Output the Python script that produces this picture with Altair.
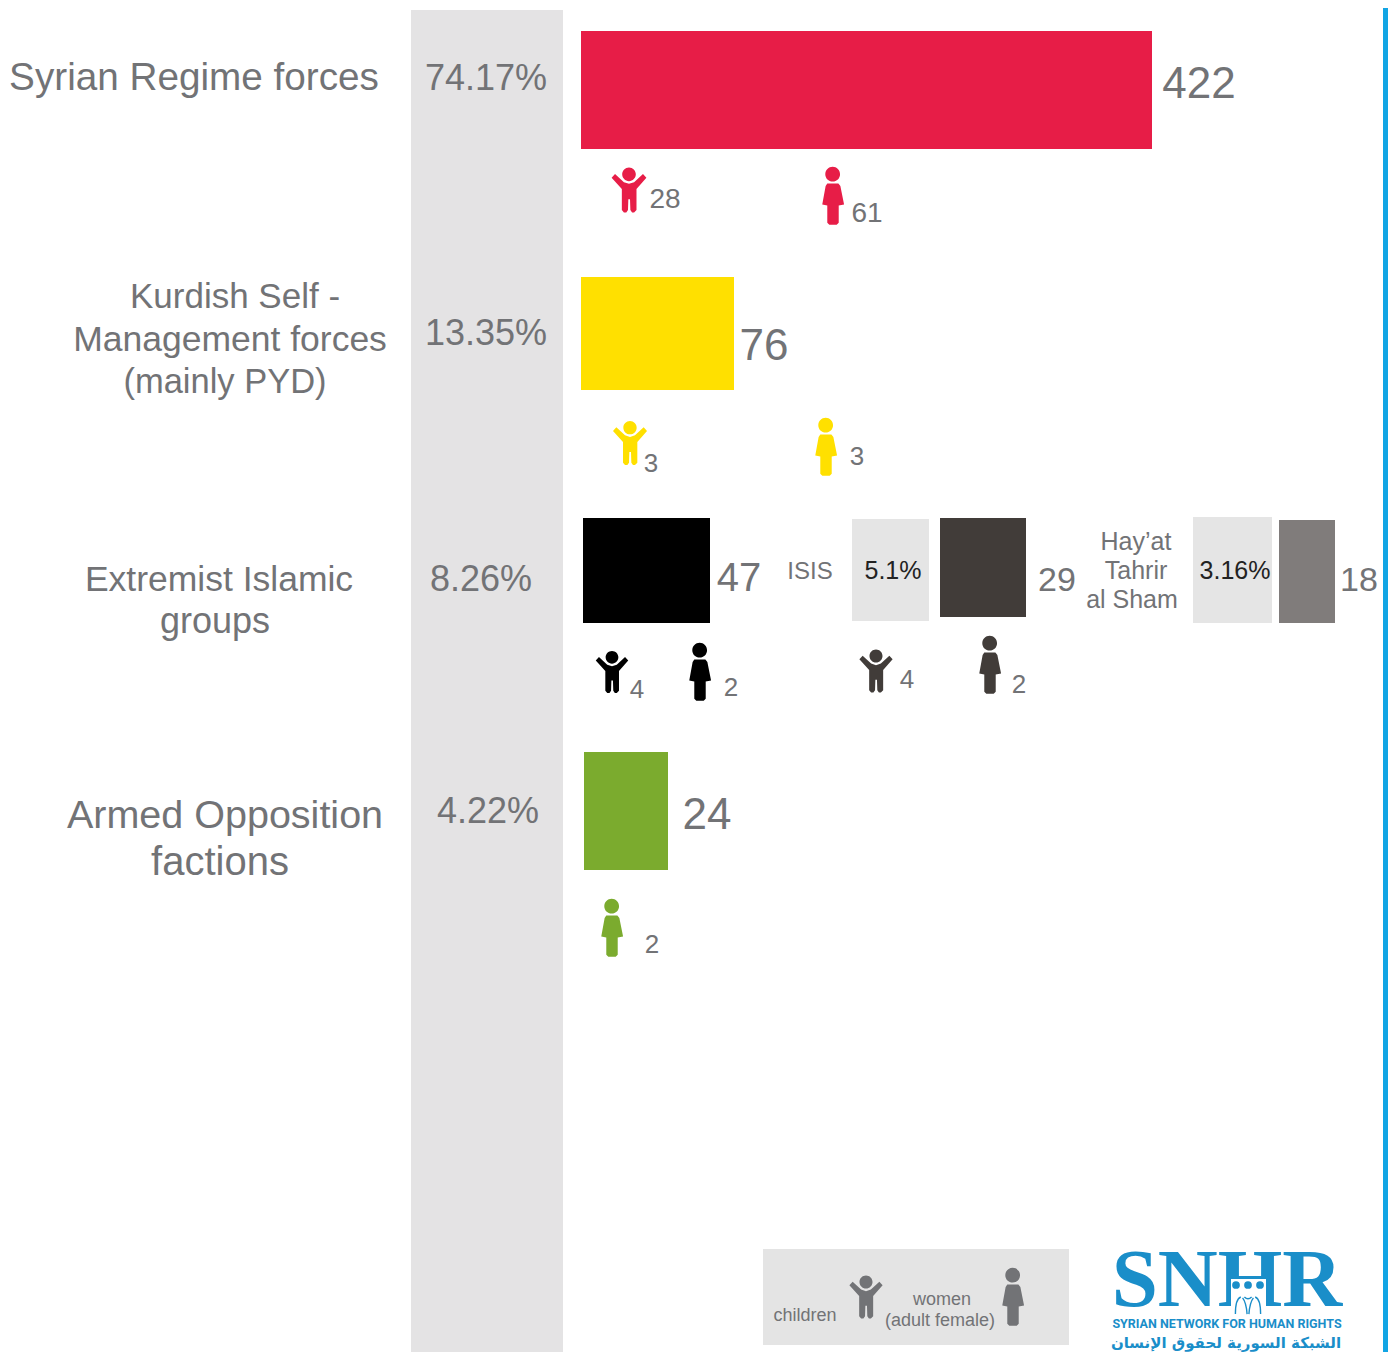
import altair as alt
import pandas as pd

# ---- values ----
groups = ["Syrian Regime forces", "Kurdish Self - Management forces (mainly PYD)", "Extremist Islamic groups",
          "ISIS", "Hay'at Tahrir al Sham", "Armed Opposition factions"]
deaths = [422, 76, 47, 29, 18, 24]
shares = ["74.17%", "13.35%", "8.26%", "5.1%", "3.16%", "4.22%"]
children = [28, 3, 4, 4, None, None]
women = [61, 3, 2, 2, None, 2]
colours = ["#e71d47", "#ffe000", "#000000", "#413c39", "#807c7b", "#7bab2e"]

# ---- layout of this infographic (separate from the values) ----
W, H = 1380, 1344
GREY = "#727376"
PANEL = "#e4e3e4"
BLUE = "#1a8ec9"
bar_box = [(581, 1152, 31, 149), (581, 734, 277, 390), (583, 710, 518, 623),
           (940, 1026, 518, 617), (1279, 1335, 520, 623), (584, 668, 752, 870)]
count_pos = [(1199, 98, 44), (764, 360, 44), (739, 591, 40), (1057, 591, 34), (1359, 591, 34), (707, 829, 44)]
share_pos = [(486, 90, 36), (486, 345, 36), (481, 591, 36), (893, 579, 25), (1235, 579, 25), (488, 823, 36)]
share_col = [GREY, GREY, GREY, "#222222", "#222222", GREY]
child_pos = [(629, 190, 45), (630, 443, 44), (612, 672, 42), (876, 671, 43), None, None]
child_lab = [(665, 208, 28), (651, 472, 26), (637, 698, 26), (907, 688, 26), None, None]
woman_pos = [(833, 196, 58), (826, 447, 58), (700, 672, 58), (990, 665, 58), None, (612, 928, 58)]
woman_lab = [(867, 222, 28), (857, 465, 26), (731, 696, 26), (1019, 693, 26), None, (652, 953, 26)]

extra_rects = [
    (411, 563, 10, 1352, PANEL), (852, 929, 519, 621, "#e5e5e5"), (1193, 1272, 517, 623, "#e5e5e5"),
    (763, 1069, 1249, 1345, "#e4e4e4"), (1383, 1388, 8, 1352, "#12a5e4"),
]
name_labels = [
    ("Syrian Regime forces", 194, 90, 38.7), ("Kurdish Self -", 235, 308, 35), ("Management forces", 230, 351, 35.5),
    ("(mainly PYD)", 225, 393, 34.5), ("Extremist Islamic", 219, 591, 35.5), ("groups", 215, 633, 36),
    ("Armed Opposition", 225, 828, 39.5), ("factions", 220, 875, 40), ("ISIS", 810, 579, 24),
    ("Hay\u2019at", 1136, 550, 25), ("Tahrir", 1136, 579, 25), ("al Sham", 1132, 608, 25),
    ("children", 805, 1321, 18), ("women", 942, 1305, 18), ("(adult female)", 940, 1326, 18),
]


def icon(points, circle, centre, half):
    f = lambda x, y: f"{(x - centre[0]) / half:.3f} {(y - centre[1]) / half:.3f}"
    body = "M" + " L".join(f(x, y) for x, y in points) + " Z"
    cx, cy, r = circle
    rr = r / half
    ring = f" M{f(cx - r, cy)} A{rr:.3f} {rr:.3f} 0 1 1 {f(cx + r, cy)} A{rr:.3f} {rr:.3f} 0 1 1 {f(cx - r, cy)} Z"
    return body + ring


CHILD = icon([(67, 55), (77, 44), (103, 68), (118, 73), (133, 68), (159, 44), (169, 55), (140, 88), (140, 150),
              (133, 157), (127, 157), (122, 150), (121, 118), (116, 118), (115, 150), (110, 157), (103, 157),
              (97, 150), (97, 88)], (118, 45, 20), (118, 91), 66)
WOMAN = icon([(712, 73), (745, 73), (751, 80), (762, 135), (746, 138), (746, 190), (740, 196), (718, 196),
              (712, 190), (712, 138), (697, 135), (707, 80)], (728, 45, 22), (729, 110), 86.5)
PEOPLE = ("M-0.70 0.95 Q-0.70 0.10 -0.40 0.00 M-0.05 0.95 Q-0.10 0.30 -0.30 0.05 "
          "M0.05 0.95 Q0.10 0.30 0.30 0.05 M0.70 0.95 Q0.70 0.10 0.40 0.00 "
          "M-0.20 0.00 Q0.00 0.20 0.20 0.00")

# ---- tables ----
rects = [dict(x=b[0], x2=b[1], y=b[2], y2=min(b[3], 8 + H), c=c) for b, c in zip(bar_box, colours)]
rects = [dict(x=a, x2=b, y=c, y2=min(d, 8 + H), c=e) for a, b, c, d, e in extra_rects] + rects

texts = [dict(t=t, x=x, y=y, s=s, c=GREY) for t, x, y, s in name_labels]
texts += [dict(t=str(v), x=p[0], y=p[1], s=p[2], c=GREY) for v, p in zip(deaths, count_pos)]
texts += [dict(t=v, x=p[0], y=p[1], s=p[2], c=c) for v, p, c in zip(shares, share_pos, share_col)]
texts += [dict(t=str(v), x=p[0], y=p[1], s=p[2], c=GREY) for v, p in zip(children, child_lab) if p]
texts += [dict(t=str(v), x=p[0], y=p[1], s=p[2], c=GREY) for v, p in zip(women, woman_lab) if p]

kids = [dict(x=p[0], y=p[1], z=p[2] ** 2, c=c) for p, c in zip(child_pos, colours) if p]
kids.append(dict(x=866, y=1297, z=43 ** 2, c=GREY))
wom = [dict(x=p[0], y=p[1], z=p[2] ** 2, c=c) for p, c in zip(woman_pos, colours) if p]
wom.append(dict(x=1013, y=1297, z=58 ** 2, c=GREY))

X = alt.X("x:Q", scale=alt.Scale(domain=[8, 8 + W], nice=False, zero=False), axis=None)
Y = alt.Y("y:Q", scale=alt.Scale(domain=[8, 8 + H], nice=False, zero=False, reverse=True), axis=None)
C = alt.Color("c:N", scale=None)

rect_layer = alt.Chart(pd.DataFrame(rects)).mark_rect().encode(X, alt.X2("x2:Q"), Y, alt.Y2("y2:Q"), C)
text_layer = alt.Chart(pd.DataFrame(texts)).mark_text(font="Liberation Sans", align="center", baseline="alphabetic").encode(
    X, Y, C, alt.Size("s:Q", scale=None), text="t:N")


def icons(rows, path):
    return alt.Chart(pd.DataFrame(rows)).mark_point(shape=path, filled=True, opacity=1, strokeWidth=0).encode(
        X, Y, C, alt.Size("z:Q", scale=None))


logo = alt.Chart(pd.DataFrame([dict(t="SNHR", x=1227, y=1306)])).mark_text(
    font="Liberation Serif", fontWeight="bold", color=BLUE, align="center",
    baseline="alphabetic", fontSize=83).encode(X, Y, text="t:N")
logo_gap = alt.Chart(pd.DataFrame([dict(x=1231, x2=1266, y=1279, y2=1308)])).mark_rect(color="#ffffff").encode(
    X, alt.X2("x2:Q"), Y, alt.Y2("y2:Q"))
logo_dots = alt.Chart(pd.DataFrame([dict(x=1236, y=1285), dict(x=1248, y=1285), dict(x=1260, y=1285)])).mark_point(
    shape="circle", filled=True, opacity=1, color=BLUE, size=60).encode(X, Y)
logo_people = alt.Chart(pd.DataFrame([dict(x=1248, y=1297)])).mark_point(
    shape=PEOPLE, filled=False, opacity=1, color=BLUE, strokeWidth=1.4, size=1600 * 0.81).encode(X, Y)
logo_en = alt.Chart(pd.DataFrame([dict(t="SYRIAN NETWORK FOR HUMAN RIGHTS", x=1227, y=1328)])).mark_text(
    font="Roboto", fontWeight="bold", fontSize=12.5, color=BLUE, align="center",
    baseline="alphabetic").encode(X, Y, text="t:N")
logo_ar = alt.Chart(pd.DataFrame([dict(t="الشبكة السورية لحقوق الإنسان", x=1226, y=1348)])).mark_text(
    font="DejaVu Sans", fontWeight="bold", fontSize=15, color=BLUE, align="center", clip=True,
    baseline="alphabetic").encode(X, Y, text="t:N")

chart = alt.layer(rect_layer, icons(kids, CHILD), icons(wom, WOMAN), text_layer, logo, logo_gap, logo_dots,
                  logo_people, logo_en, logo_ar).properties(
    width=W, height=H, padding=0, background="#ffffff",
    autosize=alt.AutoSizeParams(type="fit", contains="padding")).configure_view(stroke=None)

chart.save("out.html", embed_options={"renderer": "svg", "actions": False})
